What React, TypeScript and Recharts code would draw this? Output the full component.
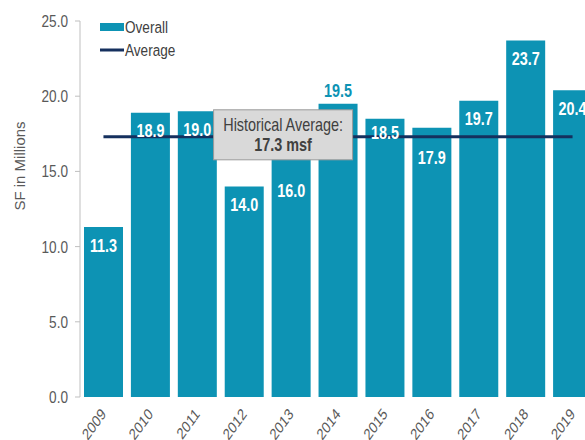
import React from 'react';
import { ComposedChart, Bar, Line, XAxis, YAxis, LabelList, Legend, ReferenceDot } from 'recharts';

const years = ['2009', '2010', '2011', '2012', '2013', '2014', '2015', '2016', '2017', '2018', '2019'];
const overall = [11.3, 18.9, 19.0, 14.0, 16.0, 19.5, 18.5, 17.9, 19.7, 23.7, 20.4];
const historicalAverage = 17.3;
const yTicks = [0, 5, 10, 15, 20, 25];
const annotationLines = ['Historical Average:', '17.3 msf'];

const data = years.map((y, i) => ({ year: y, overall: overall[i], avg: historicalAverage }));

const TEAL = '#0d93b4';
const NAVY = '#15305e';
const GRID = '#bfbfbf';
const TXT = '#595959';
const FONT = "'Liberation Sans', Arial, sans-serif";
const SX = 0.8; // horizontal condensing of the original rendering

// label layout tweaks (style only)
const labelShift: Record<string, number> = { '2013': 16, '2015': -4, '2016': 12 };
const labelAbove = new Set(['2014']);

const NText = (p: any) => (
  <text transform={`translate(${p.x},${p.y}) scale(${SX},1)${p.rotate ? ` rotate(${p.rotate})` : ''}`}
    x={0} y={0} textAnchor={p.anchor || 'middle'} dominantBaseline="central" fill={p.fill || TXT}
    fontFamily={FONT} fontSize={p.size} fontWeight={p.weight || 'normal'}>{p.children}</text>
);

const ValueLabel = (props: any) => {
  const { x, y, width, value, index } = props;
  const yr = years[index];
  const cx = x + width / 2;
  if (labelAbove.has(yr)) {
    return <NText x={cx} y={y - 13} size={18} weight="bold" fill={TEAL}>{Number(value).toFixed(1)}</NText>;
  }
  const dy = 18 + (labelShift[yr] || 0);
  return <NText x={cx} y={y + dy} size={18} weight="bold" fill="#ffffff">{Number(value).toFixed(1)}</NText>;
};

const XTick = (props: any) => {
  const { x, y, payload } = props;
  return <NText x={x} y={y + 14} anchor="end" rotate={-48} size={16}>{payload.value}</NText>;
};

const YTick = (props: any) => {
  const { x, y, payload } = props;
  return <NText x={x} y={y} anchor="end" size={17}>{Number(payload.value).toFixed(1)}</NText>;
};

const AnnotationBox = (props: any) => {
  const { cx, cy } = props;
  const w = 139;
  const h = 50;
  const bx = cx - 8 - w / 2;
  const by = cy - 2 - h / 2;
  return (
    <g>
      <rect x={bx} y={by} width={w} height={h} fill="#d9d9d9" stroke="#9a9a9a" strokeWidth={1} />
      <NText x={bx + w / 2} y={by + 15} size={18} fill="#404040">{annotationLines[0]}</NText>
      <NText x={bx + w / 2} y={by + 35} size={18} weight="bold" fill="#404040">{annotationLines[1]}</NText>
    </g>
  );
};

const LegendContent = () => (
  <svg width={120} height={44}>
    <rect x={0} y={4} width={24} height={8} fill={TEAL} />
    <NText x={25} y={8} anchor="start" size={17} fill="#404040">Overall</NText>
    <line x1={0} y1={31} x2={24} y2={31} stroke={NAVY} strokeWidth={3} />
    <NText x={25} y={31} anchor="start" size={17} fill="#404040">Average</NText>
  </svg>
);

const YTitle = () => (
  <text x={19} y={166} transform="rotate(-90, 19, 166)" textAnchor="middle" dominantBaseline="central"
    fill={TXT} fontFamily={FONT} fontSize={15}>SF in Millions</text>
);

export default function App() {
  return (
    <div style={{ position: 'absolute', left: 0, top: 0, width: 585, height: 440, overflow: 'hidden', background: '#fff' }}>
      <ComposedChart width={610} height={440} data={data} margin={{ top: 21, right: 14, bottom: 0, left: 0 }}
        barCategoryGap={4}>
        <XAxis xAxisId="grid" type="number" domain={[0, 11]} ticks={[0, 1, 2, 3, 4, 5, 6, 7, 8, 9, 10, 11]}
          height={0} tick={false} tickSize={5} axisLine={{ stroke: GRID }} tickLine={{ stroke: GRID }}
          allowDataOverflow />
        <XAxis xAxisId="cat" dataKey="year" height={43} axisLine={false} tickLine={false}
          tickSize={0} tickMargin={0} tick={<XTick />} interval={0} />
        <YAxis domain={[0, 25]} ticks={yTicks} width={80} tickSize={5} tickMargin={7}
          axisLine={{ stroke: GRID }} tickLine={{ stroke: GRID }} tick={<YTick />}
          label={<YTitle />} />
        <Legend content={<LegendContent />} layout="horizontal" verticalAlign="middle" align="center"
          wrapperStyle={{ position: 'absolute', left: 100, top: 19, width: 120, height: 44 }} />
        <Bar xAxisId="cat" dataKey="overall" name="Overall" fill={TEAL} isAnimationActive={false}>
          <LabelList dataKey="overall" content={<ValueLabel />} />
        </Bar>
        <Line xAxisId="cat" dataKey="avg" name="Average" stroke={NAVY} strokeWidth={3} dot={false}
          isAnimationActive={false} />
        <ReferenceDot xAxisId="cat" x="2013" y={historicalAverage} r={0} shape={<AnnotationBox />} />
      </ComposedChart>
    </div>
  );
}
